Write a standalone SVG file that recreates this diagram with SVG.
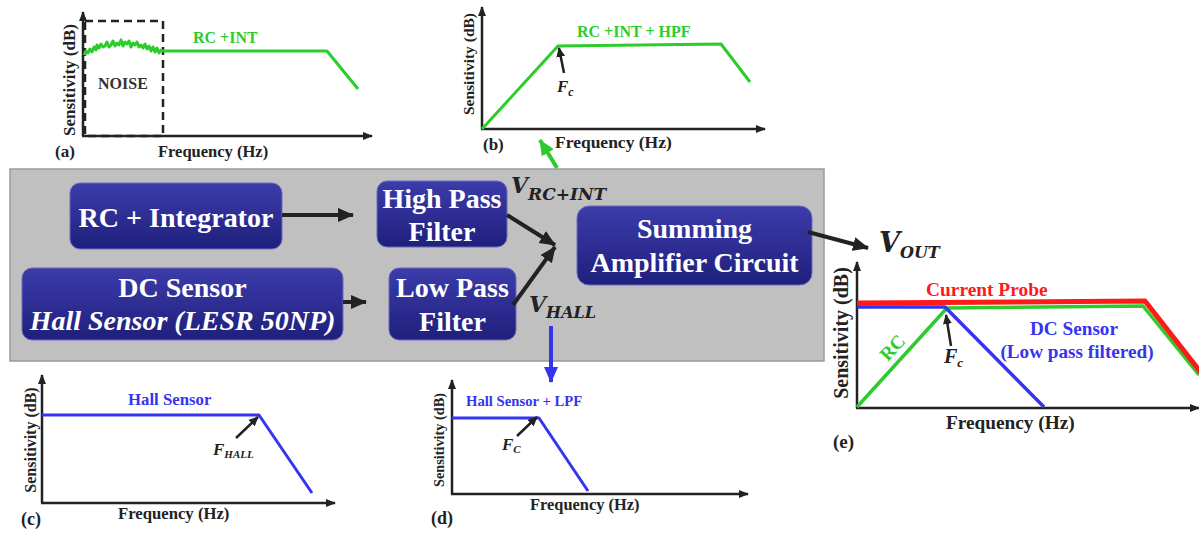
<svg xmlns="http://www.w3.org/2000/svg" width="1199" height="537" viewBox="0 0 1199 537">
<style>
.ax{stroke:#222;stroke-width:2.5;fill:none}
.lbl{font-family:"Liberation Serif",serif;font-weight:bold;fill:#222}
.node rect{fill:url(#bg);stroke:#6a6ac0;stroke-width:1}
.node text{font-family:"Liberation Serif",serif;font-weight:bold;font-size:28px;fill:#fff;text-anchor:middle}
.math{font-family:"DejaVu Serif",serif;font-weight:bold;font-style:italic;fill:#222}
.fi{font-family:"Liberation Serif",serif;font-weight:bold;font-style:italic;fill:#222}
.g{stroke:#2ccc2c;fill:none;stroke-width:3;stroke-linejoin:round}
.b{stroke:#3535f0;fill:none;stroke-width:3;stroke-linejoin:round}
.r{stroke:#ff1a1a;fill:none;stroke-width:5;stroke-linejoin:round}
</style>
<defs>
<linearGradient id="bg" x1="0" y1="0" x2="0" y2="1">
<stop offset="0" stop-color="#3c3cab"/>
<stop offset="1" stop-color="#1f1f7c"/>
</linearGradient>
<marker id="ah" markerUnits="userSpaceOnUse" markerWidth="16" markerHeight="16" viewBox="0 0 16 16" refX="15" refY="8" orient="auto">
<path d="M0,1 L16,8 L0,15 Z" fill="#222"/>
</marker>
<marker id="axh" markerUnits="userSpaceOnUse" markerWidth="10" markerHeight="10" viewBox="0 0 10 10" refX="9" refY="5" orient="auto">
<path d="M0,1 L10,5 L0,9 Z" fill="#222"/>
</marker>
<marker id="sh" markerUnits="userSpaceOnUse" markerWidth="10" markerHeight="10" viewBox="0 0 10 10" refX="9" refY="5" orient="auto">
<path d="M0,0.5 L10,5 L0,9.5 Z" fill="#222"/>
</marker>
<marker id="gh" markerUnits="userSpaceOnUse" markerWidth="16" markerHeight="16" viewBox="0 0 16 16" refX="15" refY="8" orient="auto">
<path d="M0,1 L16,8 L0,15 Z" fill="#2ccc2c"/>
</marker>
<marker id="bh" markerUnits="userSpaceOnUse" markerWidth="16" markerHeight="16" viewBox="0 0 16 16" refX="15" refY="8" orient="auto">
<path d="M0,1 L16,8 L0,15 Z" fill="#3535f0"/>
</marker>
</defs>
<rect width="1199" height="537" fill="#fff"/>

<!-- gray panel -->
<rect id="panel" x="10" y="169" width="814" height="192" fill="#c0c0c0" stroke="#9a9a9a" stroke-width="1.5"/>

<!-- graph (a) -->
<g id="graph-a">
<rect x="85" y="21" width="78" height="115" fill="none" stroke="#222" stroke-width="2.5" stroke-dasharray="8,5"/>
<line class="ax" x1="83" y1="136" x2="83" y2="12" marker-end="url(#axh)"/>
<line class="ax" x1="82" y1="136" x2="372" y2="136" marker-end="url(#axh)"/>
<polyline class="g" points="84,55 86,51 88,53 90,49 92,52 94,47 96,50 97,45 99,48 101,44 103,47 105,46 107,42 109,47 111,45 113,41 115,46 117,43 119,45 121,40 123,46 125,42 127,44 129,41 131,47 133,43 135,45 137,42 139,47 141,45 143,48 145,44 147,49 149,46 151,51 153,47 155,52 157,48 159,53 161,50 163,51 327,51 358,89"/>
<text class="lbl" x="193" y="43" font-size="16" style="fill:#2ccc2c">RC +INT</text>
<text class="lbl" x="98" y="89" font-size="16" style="fill:#333">NOISE</text>
<text class="lbl" font-size="17" text-anchor="middle" transform="translate(75,80) rotate(-90)">Sensitivity (dB)</text>
<text class="lbl" x="55" y="157" font-size="17">(a)</text>
<text class="lbl" x="158" y="157" font-size="16.5">Frequency (Hz)</text>
</g>

<!-- graph (b) -->
<g id="graph-b">
<line class="ax" x1="482" y1="129" x2="482" y2="7" marker-end="url(#axh)"/>
<line class="ax" x1="481" y1="129" x2="765" y2="129" marker-end="url(#axh)"/>
<polyline class="g" points="482,129 558,46 721,44 750,82"/>
<text class="lbl" x="577" y="37" font-size="16" style="fill:#2ccc2c">RC +INT + HPF</text>
<line x1="564" y1="73" x2="559" y2="48" stroke="#222" stroke-width="2.5" marker-end="url(#sh)"/>
<text class="fi" x="557" y="92" font-size="17">F<tspan font-size="12" dy="4">c</tspan></text>
<text class="lbl" font-size="15.5" text-anchor="middle" transform="translate(474,64) rotate(-90)">Sensitivity (dB)</text>
<text class="lbl" x="483" y="150" font-size="17">(b)</text>
<text class="lbl" x="555" y="148" font-size="17.5">Frequency (Hz)</text>
</g>

<!-- graph (c) -->
<g id="graph-c">
<line class="ax" x1="42" y1="503" x2="42" y2="375" marker-end="url(#axh)"/>
<line class="ax" x1="41" y1="503" x2="335" y2="503" marker-end="url(#axh)"/>
<polyline class="b" points="42,415 259,415 312,493"/>
<text class="lbl" x="128" y="405" font-size="16.8" style="fill:#3535f0">Hall Sensor</text>
<line x1="236" y1="438" x2="258" y2="417" stroke="#222" stroke-width="2.5" marker-end="url(#sh)"/>
<text class="fi" x="213" y="455" font-size="17">F<tspan font-size="11" dy="3">HALL</tspan></text>
<text class="lbl" font-size="16" text-anchor="middle" transform="translate(36,440) rotate(-90)">Sensitivity (dB)</text>
<text class="lbl" x="21" y="525" font-size="18">(c)</text>
<text class="lbl" x="118" y="519" font-size="16.7">Frequency (Hz)</text>
</g>

<!-- graph (d) -->
<g id="graph-d">
<line class="ax" x1="452" y1="494" x2="452" y2="380" marker-end="url(#axh)"/>
<line class="ax" x1="451" y1="494" x2="748" y2="494" marker-end="url(#axh)"/>
<polyline class="b" points="452,418 539,418 588,491"/>
<text class="lbl" x="466" y="406" font-size="14.7" style="fill:#3535f0">Hall Sensor + LPF</text>
<line x1="517" y1="436" x2="537" y2="417" stroke="#222" stroke-width="2.5" marker-end="url(#sh)"/>
<text class="fi" x="502" y="450" font-size="17">F<tspan font-size="11" dy="3">C</tspan></text>
<text class="lbl" font-size="14.3" text-anchor="middle" transform="translate(444,440) rotate(-90)">Sensitivity (dB)</text>
<text class="lbl" x="431" y="524" font-size="18">(d)</text>
<text class="lbl" x="530" y="510" font-size="16.4">Frequency (Hz)</text>
</g>

<!-- graph (e) -->
<g id="graph-e">
<line class="ax" x1="857" y1="408" x2="857" y2="262" marker-end="url(#axh)"/>
<line class="ax" x1="856" y1="408" x2="1199" y2="408" marker-end="url(#axh)"/>
<polyline class="g" style="stroke-width:3.5" points="857,407 947,308 1143,306 1199,375"/>
<polyline class="r" points="857,303 1145,301 1202,374"/>
<polyline class="b" style="stroke-width:3.5" points="857,307 945,307 1044,407"/>
<text class="lbl" x="926" y="296" font-size="19.4" style="fill:#ff1a1a">Current Probe</text>
<text class="lbl" x="1074" y="335" font-size="19.2" text-anchor="middle" style="fill:#3535f0">DC Sensor</text>
<text class="lbl" x="1077" y="358" font-size="19.2" text-anchor="middle" style="fill:#3535f0">(Low pass filtered)</text>
<text class="lbl" font-size="19" text-anchor="middle" style="fill:#2ccc2c" transform="translate(897,352) rotate(-47)">RC</text>
<line x1="951" y1="346" x2="946" y2="315" stroke="#222" stroke-width="2.5" marker-end="url(#sh)"/>
<text class="fi" x="944" y="363" font-size="20">F<tspan font-size="13" dy="4">c</tspan></text>
<text class="lbl" font-size="20" text-anchor="middle" transform="translate(848,333) rotate(-90)">Sensitivity (dB)</text>
<text class="lbl" x="833" y="448" font-size="19">(e)</text>
<text class="lbl" x="946" y="429" font-size="19.3">Frequency (Hz)</text>
</g>

<!-- nodes -->
<g id="rc-integrator" class="node">
<rect x="70" y="183" width="212" height="66" rx="10"/>
<text x="176" y="227">RC + Integrator</text>
</g>
<g id="high-pass" class="node">
<rect x="377" y="181" width="130" height="66" rx="10"/>
<text x="442" y="208">High Pass</text>
<text x="442" y="241">Filter</text>
</g>
<g id="dc-sensor" class="node">
<rect x="22" y="268" width="321" height="72" rx="10"/>
<text x="182.5" y="297">DC Sensor</text>
<text x="182.5" y="330" font-style="italic">Hall Sensor (LESR 50NP)</text>
</g>
<g id="low-pass" class="node">
<rect x="389" y="268" width="127" height="72" rx="10"/>
<text x="452.5" y="297">Low Pass</text>
<text x="452.5" y="331">Filter</text>
</g>
<g id="summing" class="node">
<rect x="577" y="206" width="235" height="79" rx="12"/>
<text x="694.5" y="238">Summing</text>
<text x="694.5" y="272">Amplifier Circuit</text>
</g>

<!-- signal labels -->
<g id="labels">
<text class="math" x="511" y="193" font-size="22">V<tspan font-size="17" dy="7">RC+INT</tspan></text>
<text class="math" x="529" y="312" font-size="22">V<tspan font-size="16" dy="6">HALL</tspan></text>
<text class="math" x="879" y="252" font-size="27">V<tspan font-size="16" dy="6">OUT</tspan></text>
</g>

<!-- connectors -->
<g id="connectors" fill="none" stroke-width="4">
<line x1="282" y1="215" x2="353" y2="215" stroke="#222" marker-end="url(#ah)"/>
<line x1="343" y1="302" x2="366" y2="302" stroke="#222" marker-end="url(#ah)"/>
<line x1="507" y1="215" x2="555" y2="245" stroke="#222" marker-end="url(#ah)"/>
<line x1="513" y1="305" x2="555" y2="247" stroke="#222" marker-end="url(#ah)"/>
<line x1="808" y1="232" x2="868" y2="248" stroke="#222" marker-end="url(#ah)"/>
<line x1="557" y1="168" x2="540" y2="140" stroke="#2ccc2c" marker-end="url(#gh)"/>
<line x1="551" y1="326" x2="551" y2="382" stroke="#3535f0" marker-end="url(#bh)"/>
</g>
</svg>
